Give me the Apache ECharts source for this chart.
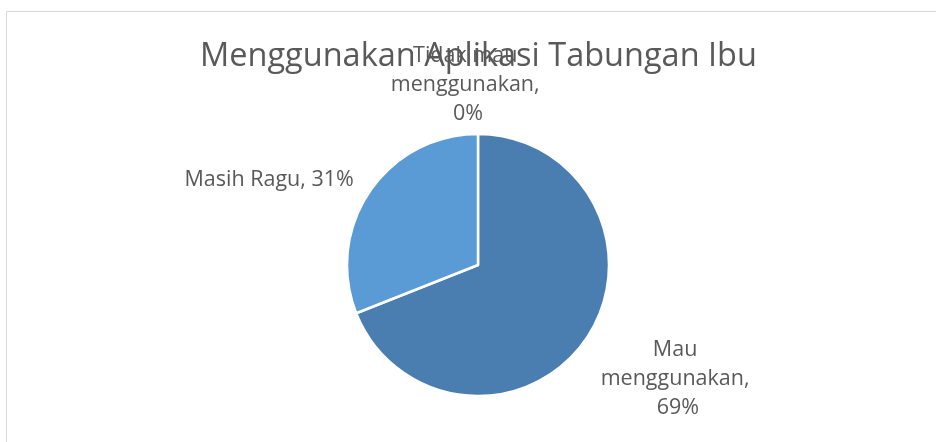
<!DOCTYPE html>
<html>
<head>
<meta charset="utf-8">
<script src="https://cdn.jsdelivr.net/npm/echarts@6/dist/echarts.min.js"></script>
<style>
  html, body { margin: 0; padding: 0; background: #fff; }
  #chart { width: 936px; height: 442px; }
</style>
</head>
<body>
<div id="chart"></div>
<script>
// data
const titleText = 'Menggunakan Aplikasi Tabungan Ibu';
const categories = ['Tidak mau menggunakan', 'Mau menggunakan', 'Masih Ragu'];
const values = [0, 69, 31];
const sliceColors = ['#a5a5a5', '#4a7eb0', '#5b9bd5'];

// label nudges so they sit where Excel put them
const labelLen = [53, 72, 20];
const labelShift = [[-5, 4], [27, 0], [-79, 0]];

const chart = echarts.init(document.getElementById('chart'));

const option = {
    backgroundColor: '#fff',
    animation: false,
    title: {
        text: titleText,
        left: 195,
        top: 35,
        textStyle: {
            fontFamily: 'Open Sans',
            fontSize: 32.5,
            fontWeight: 'normal',
            color: '#595959'
        }
    },
    graphic: [{
        type: 'rect',
        shape: { x: 6.5, y: 11.5, width: 1000, height: 1000 },
        style: { fill: 'none', stroke: '#d9d9d9', lineWidth: 1 },
        silent: true
    }],
    series: [{
        type: 'pie',
        center: [478, 265],
        radius: 131,
        startAngle: 90,
        clockwise: true,
        itemStyle: { borderColor: '#fff', borderWidth: 2.5 },
        label: {
            show: true,
            position: 'outside',
            fontFamily: 'Open Sans',
            fontSize: 21.5,
            lineHeight: 29,
            color: '#595959',
            width: 180,
            overflow: 'break',
            formatter: p => p.name + ', ' + p.value + '%'
        },
        labelLine: { show: false, length2: 0 },
        labelLayout: p => ({
            dx: labelShift[p.dataIndex][0],
            dy: labelShift[p.dataIndex][1],
            align: 'center'
        }),
        data: categories.map((name, i) => ({
            name: name,
            value: values[i],
            itemStyle: { color: sliceColors[i] },
            labelLine: { show: false, length: labelLen[i], length2: 0 }
        }))
    }]
};

chart.setOption(option);
</script>
</body>
</html>
